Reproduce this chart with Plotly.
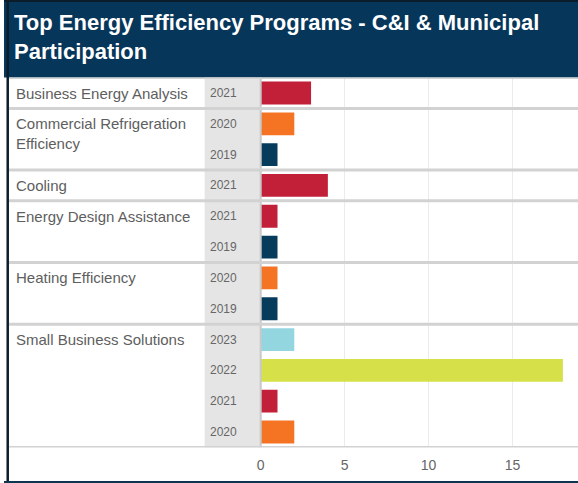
import plotly.graph_objects as go

# one entry per bar row, top to bottom
row_program = ["Business Energy Analysis",
               "Commercial Refrigeration Efficiency", "Commercial Refrigeration Efficiency",
               "Cooling",
               "Energy Design Assistance", "Energy Design Assistance",
               "Heating Efficiency", "Heating Efficiency",
               "Small Business Solutions", "Small Business Solutions",
               "Small Business Solutions", "Small Business Solutions"]
row_year = ["2021", "2020", "2019", "2021", "2021", "2019", "2020", "2019",
            "2023", "2022", "2021", "2020"]
participation = [3, 2, 1, 4, 1, 1, 1, 1, 2, 18, 1, 2]

program_labels = {"Commercial Refrigeration Efficiency": "Commercial Refrigeration<br>Efficiency"}
year_colors = {"2019": "#073b5c", "2020": "#f47424", "2021": "#c21f39",
               "2022": "#d6e048", "2023": "#94d6df"}

W, H = 578, 483
TOP, BOTTOM = 77.6, 447.4   # pixel rows of the table body
rows = list(range(len(row_year)))

fig = go.Figure()
fig.add_trace(go.Bar(
    x=participation, y=rows, orientation="h",
    marker=dict(color=[year_colors[y] for y in row_year], line=dict(width=0)),
    width=0.74, hoverinfo="skip",
))

shapes = []
# title band
shapes.append(dict(type="rect", xref="paper", yref="paper", x0=0, x1=1,
                   y0=1 - TOP / H, y1=1, fillcolor="#06365a", line_width=0, layer="below"))
shapes.append(dict(type="rect", xref="paper", yref="paper", x0=0, x1=1,
                   y0=1 - 2 / H, y1=1, fillcolor="#0b1c2a", line_width=0))
# year column
shapes.append(dict(type="rect", xref="paper", yref="y", x0=202 / W, x1=258.5 / W,
                   y0=-0.5, y1=len(rows) - 0.5, fillcolor="#e5e5e5", line_width=0, layer="below"))
shapes.append(dict(type="line", xref="paper", yref="y", x0=258.5 / W, x1=258.5 / W,
                   y0=-0.5, y1=len(rows) - 0.5, line=dict(color="#c9c9c9", width=2)))

# group separators and program names
annotations = []
for i, prog in enumerate(row_program):
    if i == 0 or row_program[i - 1] != prog:
        shapes.append(dict(type="line", xref="paper", yref="y", x0=5 / W, x1=1,
                           y0=i - 0.5, y1=i - 0.5, line=dict(color="#d2d2d2", width=3)))
        annotations.append(dict(x=10 / W, xref="paper", y=i, yref="y",
                                text=program_labels.get(prog, prog), showarrow=False,
                                xanchor="left", yanchor="top", yshift=10.5, align="left",
                                font=dict(size=15, color="#5e5e5e")))
    annotations.append(dict(x=205 / W, xref="paper", y=i, yref="y", text=row_year[i],
                            showarrow=False, xanchor="left", yanchor="middle",
                            font=dict(size=12, color="#666666")))
shapes.append(dict(type="line", xref="paper", yref="y", x0=5 / W, x1=1,
                   y0=len(rows) - 0.5, y1=len(rows) - 0.5, line=dict(color="#d2d2d2", width=3)))

# frame on left and bottom
shapes.append(dict(type="rect", xref="paper", yref="paper", x0=2.5 / W, x1=5 / W, y0=0, y1=1,
                   fillcolor="#0b1c2a", line_width=0))
shapes.append(dict(type="rect", xref="paper", yref="paper", x0=0, x1=1, y0=0, y1=2 / H,
                   fillcolor="#0d3550", line_width=0))

annotations.append(dict(x=8 / W, xref="paper", y=1 - 8 / H, yref="paper",
                        text="<b>Top Energy Efficiency Programs - C&I & Municipal<br>Participation</b>",
                        showarrow=False, xanchor="left", yanchor="top", align="left",
                        font=dict(size=22, color="#ffffff")))

fig.update_layout(
    width=W, height=H,
    margin=dict(l=0, r=0, t=0, b=0),
    paper_bgcolor="#ffffff", plot_bgcolor="#ffffff",
    font=dict(family="Liberation Sans, Arial, sans-serif"),
    showlegend=False,
    bargap=0.26,
    shapes=shapes, annotations=annotations,
    xaxis=dict(domain=[258.5 / W, 1], range=[0, 18.9], tickvals=[0, 5, 10, 15],
               showgrid=True, gridcolor="#ebebeb", gridwidth=1, zeroline=False,
               showline=False, ticks="", ticklabelstandoff=8,
               tickfont=dict(size=14, color="#666666")),
    yaxis=dict(domain=[1 - BOTTOM / H, 1 - TOP / H], range=[len(rows) - 0.5, -0.5],
               showticklabels=False, showgrid=False, zeroline=False, showline=False),
)

fig.write_html("out.html", config={"displayModeBar": False},
               post_script="document.body.style.margin='0';")
